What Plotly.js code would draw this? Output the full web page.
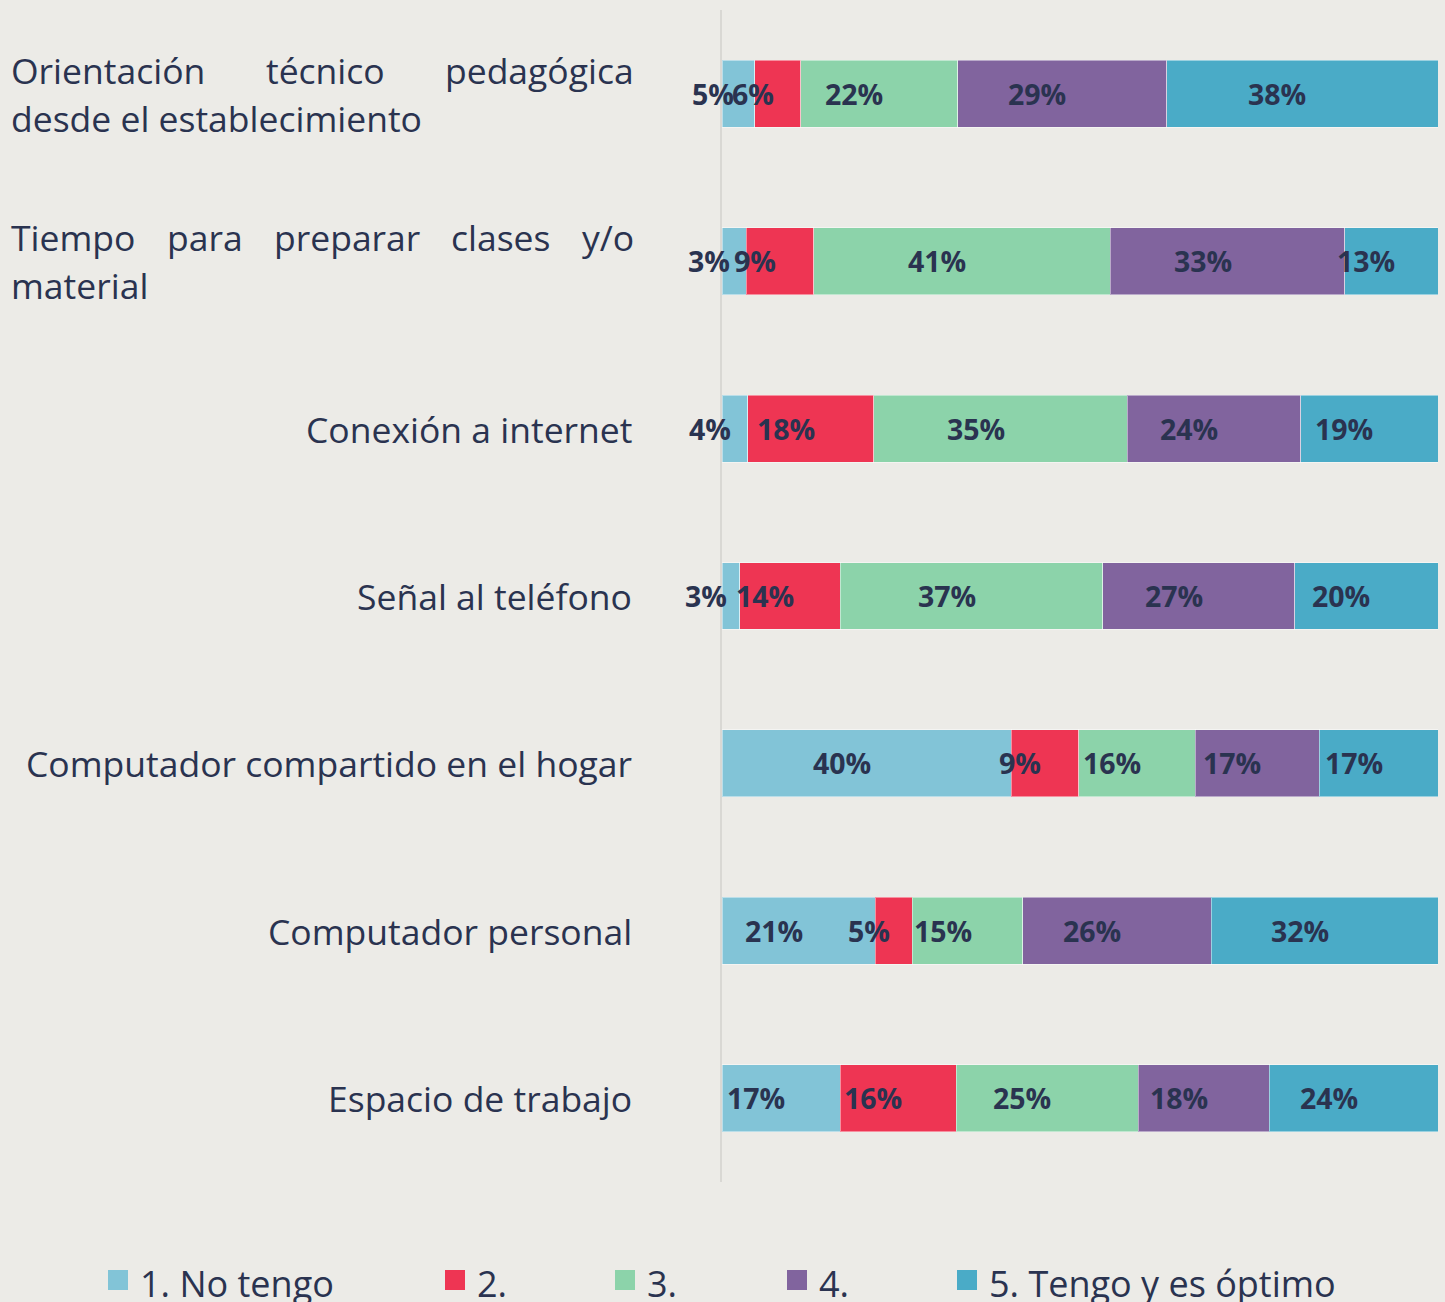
<!DOCTYPE html>
<html><head><meta charset="utf-8">
<script src="https://cdn.plot.ly/plotly-3.0.1.min.js"></script>
<style>html,body{margin:0;padding:0;background:#ecebe7;}#chart{width:1445px;height:1302px;}</style>
</head><body><div id="chart"></div>
<script>
// ---- data ----
const categoryLines = [
  ["Orientación técnico pedagógica", "desde el establecimiento"],
  ["Tiempo para preparar clases y/o", "material"],
  ["Conexión a internet"],
  ["Señal al teléfono"],
  ["Computador compartido en el hogar"],
  ["Computador personal"],
  ["Espacio de trabajo"]
];
const categories = categoryLines.map(l => l.join(" "));
const seriesNames = ["1. No tengo", "2.", "3.", "4.", "5. Tengo y es óptimo"];
const s1 = [4.6, 3.4, 3.6, 2.5, 40.4, 21.4, 16.5];
const s2 = [6.4, 9.4, 17.6, 14.0, 9.4, 5.2, 16.2];
const s3 = [21.9, 41.4, 35.4, 36.7, 16.3, 15.4, 25.4];
const s4 = [29.2, 32.8, 24.2, 26.8, 17.3, 26.3, 18.3];
const s5 = [37.9, 13.0, 19.2, 20.0, 16.6, 31.7, 23.6];
const series = [s1, s2, s3, s4, s5];
const colors = ["#82c4d7", "#ee3553", "#8cd3aa", "#81649e", "#4aabc7"];

// ---- layout constants ----
const W = 1445, H = 1302;
const M = {l: 722, r: 7, t: 10, b: 120};
const textColor = "#2a3350";
const labelFont = {family: "'Open Sans', sans-serif", size: 35.5, color: textColor};
const legendFont = {family: "'Open Sans', sans-serif", size: 36, color: textColor};
const valueFont = {family: "'Open Sans', sans-serif", size: 28.5, color: textColor, weight: 700};
const labelRight = 633, labelLeft = 10;
const legendX = [108, 445, 615, 787, 957];

function draw() {
  const ctx = document.createElement("canvas").getContext("2d");
  ctx.font = labelFont.size + "px 'Open Sans'";

  const traces = series.map((s, i) => ({
    type: "bar", orientation: "h",
    name: seriesNames[i], x: s, y: categories,
    marker: {color: colors[i], line: {color: "rgba(255,255,255,0.45)", width: 1}},
    hoverinfo: "skip", showlegend: false
  }));

  const annotations = [];
  // value labels
  categories.forEach((c, r) => {
    let cum = 0;
    series.forEach((s) => {
      const v = s[r];
      annotations.push({
        x: cum + v / 2, y: c, xref: "x", yref: "y",
        text: Math.round(v) + "%", showarrow: false,
        xshift: -25, font: valueFont
      });
      cum += v;
    });
  });

  // category labels
  categoryLines.forEach((lines, r) => {
    const c = categories[r];
    if (lines.length === 1) {
      annotations.push({
        x: 0, xref: "paper", y: c, yref: "y", xanchor: "right",
        xshift: labelRight - M.l, text: lines[0], showarrow: false, font: labelFont, borderpad: 0
      });
    } else {
      // first line justified
      const words = lines[0].split(" ");
      const widths = words.map(w => ctx.measureText(w).width);
      const total = widths.reduce((a, b) => a + b, 0);
      const gap = (labelRight - labelLeft - total) / (words.length - 1);
      let px = labelLeft;
      words.forEach((w, i) => {
        annotations.push({
          x: 0, xref: "paper", y: c, yref: "y", xanchor: "left",
          xshift: px - M.l, yshift: 24, text: w, showarrow: false,
          font: labelFont, borderpad: 0
        });
        px += widths[i] + gap;
      });
      annotations.push({
        x: 0, xref: "paper", y: c, yref: "y", xanchor: "left",
        xshift: labelLeft - M.l, yshift: -24, text: lines[1], showarrow: false,
        font: labelFont, borderpad: 0
      });
    }
  });

  // legend (manual)
  const shapes = [];
  seriesNames.forEach((n, i) => {
    shapes.push({
      type: "rect", xref: "paper", yref: "paper",
      xsizemode: "pixel", ysizemode: "pixel", xanchor: 0, yanchor: 0,
      x0: legendX[i] - M.l, x1: legendX[i] + 20 - M.l,
      y0: -(1290 - (H - M.b)), y1: -(1270 - (H - M.b)),
      fillcolor: colors[i], line: {width: 0}
    });
    annotations.push({
      x: 0, xref: "paper", y: 0, yref: "paper", xanchor: "left", yanchor: "middle",
      xshift: legendX[i] + 31 - M.l, yshift: -101, text: n, showarrow: false,
      font: legendFont, borderpad: 0
    });
  });

  const layout = {
    width: W, height: H, margin: M,
    paper_bgcolor: "#ecebe7", plot_bgcolor: "#ecebe7",
    barmode: "stack", bargap: 0.6, showlegend: false,
    xaxis: {range: [0, 100], showgrid: false, zeroline: false, showticklabels: false, showline: false, fixedrange: true},
    yaxis: {type: "category", autorange: "reversed", showticklabels: false, showgrid: false,
            zeroline: false, showline: true, linecolor: "#d9d8d4", linewidth: 2, ticks: "", fixedrange: true},
    annotations: annotations, shapes: shapes,
    font: labelFont
  };
  Plotly.newPlot("chart", traces, layout, {displayModeBar: false, staticPlot: true});
}
if (document.fonts && document.fonts.load) {
  Promise.all([document.fonts.load("36px 'Open Sans'"), document.fonts.load("bold 30px 'Open Sans'")])
    .then(draw, draw);
} else { draw(); }
</script>
</body></html>
